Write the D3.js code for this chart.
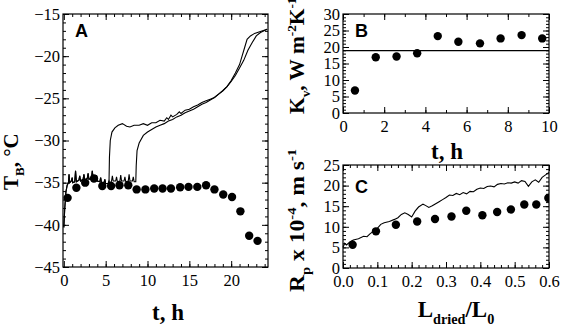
<!DOCTYPE html>
<html lang="en">
<head>
<meta charset="UTF-8">
<title>Freeze drying: T_B, K_v, R_p</title>
<script src="https://d3js.org/d3.v7.min.js"></script>
<style>
  body { margin: 0; background: #fff; }
  svg { display: block; }
  .title { font-family: "Liberation Serif", "Times New Roman", serif; font-weight: bold; fill: #000; }
  .panel { font-family: "Liberation Sans", Arial, sans-serif; font-weight: bold; font-size: 18px; }
</style>
</head>
<body>
<script>
// ---- panel A : product temperature T_B (°C) vs time (h)
const tbDotTime = [0.45, 1.5, 2.55, 3.6, 4.6, 5.65, 6.65, 7.7, 8.7, 9.75, 10.8, 11.8, 12.8, 13.9, 14.9, 15.95, 17.0, 18.0, 19.05, 20.1, 21.1, 22.15, 23.15];
const tbDotTemp = [-36.8, -35.6, -35.0, -34.5, -35.4, -35.4, -35.3, -35.3, -35.8, -35.8, -35.7, -35.7, -35.7, -35.55, -35.5, -35.5, -35.3, -35.8, -36.4, -36.7, -38.4, -41.3, -41.9];

// thermocouple traces, shared start then two runs
const tbEarly = [[0, -40.3], [0.1, -38.2], [0.25, -36.1], [0.4, -35.3], [0.55, -35.0], [0.62, -34.0], [0.7, -35.0], [0.9, -34.8], [1.0, -34.4], [1.06, -35.0], [1.3, -34.9], [1.4, -33.6], [1.5, -34.9], [1.8, -34.7], [1.9, -34.2], [2.0, -34.8], [2.3, -34.6], [2.4, -34.0], [2.5, -34.7], [2.8, -34.5], [2.9, -33.9], [3.0, -34.6], [3.3, -34.5], [3.4, -33.6], [3.5, -34.5], [3.8, -34.6], [3.9, -34.1], [4.0, -34.8], [4.3, -34.9], [4.4, -34.4], [4.5, -35.0], [4.8, -35.0], [4.9, -34.6], [5.0, -35.1], [5.3, -35.1], [5.4, -34.8]];
const tbRun1 = [[5.45, -32.0], [5.55, -30.0], [5.75, -29.0], [6.1, -28.5], [6.5, -28.2], [7.0, -28.0], [7.5, -28.3], [7.9, -28.4], [8.4, -28.2], [9.0, -28.2], [9.5, -28.0], [10.0, -28.2], [10.5, -27.9], [11.0, -27.9], [11.5, -27.6], [12.0, -27.7], [12.3, -27.3], [12.5, -27.5], [12.8, -27.0], [13.0, -27.2], [13.5, -26.9], [13.8, -26.6], [14.0, -26.8], [14.5, -26.4], [15.0, -26.3], [15.5, -26.0], [16.0, -25.8], [16.5, -25.5], [17.0, -25.3], [17.5, -25.1], [18.0, -24.9], [18.5, -24.5], [19.0, -24.1], [19.5, -23.6], [20.0, -22.9], [20.5, -22.0], [21.0, -21.0], [21.3, -20.0], [21.6, -19.0], [21.9, -18.0], [22.3, -17.6], [22.8, -17.3], [23.4, -17.1], [24.3, -16.8]];
const tbRun2 = [[5.5, -35.1], [5.7, -34.8], [5.8, -34.2], [5.9, -34.8], [6.2, -34.8], [6.3, -34.3], [6.4, -34.9], [6.7, -34.8], [6.8, -34.1], [6.9, -34.8], [7.2, -34.8], [7.3, -34.3], [7.4, -34.9], [7.7, -34.8], [7.8, -34.0], [7.9, -34.8], [8.2, -34.8], [8.3, -34.3], [8.4, -34.9], [8.6, -34.9], [8.65, -33.0], [8.75, -31.2], [9.0, -30.3], [9.5, -29.4], [10.0, -29.0], [10.5, -28.7], [11.0, -28.4], [11.5, -28.2], [12.0, -28.0], [12.5, -27.7], [13.0, -27.5], [13.5, -27.2], [14.0, -27.0], [14.5, -26.7], [15.0, -26.5], [15.5, -26.3], [16.0, -26.0], [16.5, -25.7], [17.0, -25.5], [17.5, -25.2], [18.0, -24.9], [18.5, -24.5], [19.0, -24.1], [19.5, -23.6], [20.0, -23.0], [20.5, -22.3], [21.0, -21.4], [21.5, -20.5], [22.0, -19.3], [22.5, -18.4], [23.0, -17.6], [23.5, -17.2], [24.3, -16.8]];

// ---- panel B : heat transfer coefficient K_v vs time
const kvTime = [0.58, 1.59, 2.6, 3.6, 4.6, 5.6, 6.65, 7.65, 8.67, 9.67];
const kvValue = [6.8, 16.9, 17.1, 18.1, 23.3, 21.6, 21.1, 22.6, 23.6, 22.6];
const kvMean = [18.9];

// ---- panel C : dried layer resistance R_p vs L_dried/L_0
const rpFrac = [0.028, 0.096, 0.154, 0.216, 0.268, 0.316, 0.359, 0.406, 0.449, 0.489, 0.528, 0.563, 0.598];
const rpValue = [5.65, 8.9, 10.5, 11.3, 11.9, 12.5, 13.9, 12.8, 13.6, 14.2, 15.4, 15.4, 17.0];
const rpLine = [[0.0, 5.0], [0.005, 6.0], [0.01, 5.6], [0.02, 6.3], [0.03, 6.8], [0.045, 7.1], [0.06, 7.7], [0.07, 7.6], [0.08, 8.4], [0.09, 8.9], [0.1, 9.6], [0.11, 10.6], [0.12, 11.0], [0.135, 11.3], [0.15, 11.8], [0.16, 12.2], [0.17, 13.0], [0.18, 13.4], [0.19, 13.0], [0.2, 12.4], [0.21, 13.8], [0.22, 14.8], [0.233, 15.5], [0.24, 15.2], [0.25, 14.7], [0.26, 15.1], [0.27, 15.6], [0.28, 16.1], [0.29, 16.6], [0.3, 17.1], [0.31, 17.7], [0.32, 17.6], [0.33, 18.1], [0.34, 17.8], [0.35, 18.3], [0.36, 18.0], [0.37, 18.6], [0.38, 18.5], [0.39, 19.1], [0.4, 19.4], [0.41, 19.3], [0.42, 19.8], [0.43, 19.9], [0.44, 19.7], [0.45, 20.3], [0.46, 20.5], [0.47, 20.4], [0.48, 20.7], [0.49, 20.6], [0.5, 20.9], [0.51, 20.6], [0.52, 21.2], [0.53, 21.0], [0.54, 19.8], [0.55, 20.9], [0.56, 21.4], [0.57, 20.8], [0.58, 22.0], [0.59, 22.6], [0.6, 23.2]];

// tick labels
const aTimeTicks = [0, 5, 10, 15, 20];
const aTempTicks = [-45, -40, -35, -30, -25, -20, -15];
const bTimeTicks = [0, 2, 4, 6, 8, 10];
const bKvTicks = [0, 5, 10, 15, 20, 25, 30];
const cFracTicks = [0, 0.1, 0.2, 0.3, 0.4, 0.5, 0.6];
const cRpTicks = [0, 5, 10, 15, 20, 25];

const serif = '"Liberation Serif", "Times New Roman", serif';
const svg = d3.select('body').append('svg').attr('width', 561).attr('height', 328);

function frame(x, y, o) {
  const [x0, x1] = x.range(), [y0, y1] = y.range();
  const g = svg.append('g');
  const add = (axis, tx, ty) => g.append('g')
      .attr('transform', `translate(${tx},${ty})`)
      .call(axis)
      .attr('font-family', serif)
      .attr('font-size', 16.5)
      .call(s => s.select('.domain').remove());
  add(d3.axisBottom(x).tickValues(o.xMinor).tickSize(-3).tickFormat(''), 0, y0);
  add(d3.axisTop(x).tickValues(o.xMinor).tickSize(-3).tickFormat(''), 0, y1);
  add(d3.axisLeft(y).tickValues(o.yMinor).tickSize(-3).tickFormat(''), x0, 0);
  add(d3.axisRight(y).tickValues(o.yMinor).tickSize(-3).tickFormat(''), x1, 0);
  add(d3.axisBottom(x).tickValues(o.xMajor).tickSize(-6).tickPadding(7).tickFormat(o.xFmt), 0, y0);
  add(d3.axisTop(x).tickValues(o.xMajor).tickSize(-6).tickFormat(''), 0, y1);
  add(d3.axisLeft(y).tickValues(o.yMajor).tickSize(-6).tickPadding(3).tickFormat(o.yFmt), x0, 0);
  add(d3.axisRight(y).tickValues(o.yMajor).tickSize(-6).tickFormat(''), x1, 0);
  g.selectAll('.tick line').attr('stroke', '#000');
  g.selectAll('.tick text')
    .attr('fill', '#000')
    .style('font-family', serif)
    .style('font-size', '16.5px');
  g.append('rect')
    .attr('x', x0).attr('y', y1)
    .attr('width', x1 - x0).attr('height', y0 - y1)
    .attr('fill', 'none').attr('stroke', '#000').attr('stroke-width', 1.2);
}

function dots(xs, ys, x, y, clip) {
  svg.append('g').attr('clip-path', clip || null)
    .selectAll('circle')
    .data(xs)
    .enter()
    .append('circle')
    .attr('cx', d => x(d))
    .attr('cy', (d, i) => y(ys[i]))
    .attr('r', 4.2)
    .attr('fill', '#000');
}

function trace(pts, x, y) {
  const line = d3.line().x(d => x(d[0])).y(d => y(d[1]));
  svg.append('path').attr('d', line(pts))
    .attr('fill', 'none').attr('stroke', '#000').attr('stroke-width', 1.1);
}

// panel A
const xA = d3.scaleLinear().domain([-0.1, 24.4]).range([63, 268]);
const yA = d3.scaleLinear().domain([-45, -15]).range([267, 14]);
frame(xA, yA, {
  xMajor: aTimeTicks, xMinor: d3.range(1, 25), xFmt: d3.format('d'),
  yMajor: aTempTicks, yMinor: d3.range(-44, -15), yFmt: d3.format('d')
});
trace(tbEarly.concat(tbRun1), xA, yA);
trace(tbEarly.concat(tbRun2), xA, yA);
dots(tbDotTime, tbDotTemp, xA, yA);

// panel B
const xB = d3.scaleLinear().domain([0, 10]).range([343, 549]);
const yB = d3.scaleLinear().domain([0, 30]).range([113, 14]);
frame(xB, yB, {
  xMajor: bTimeTicks, xMinor: d3.range(1, 10), xFmt: d3.format('d'),
  yMajor: bKvTicks, yMinor: d3.range(1, 30), yFmt: d3.format('d')
});
svg.append('line')
  .attr('x1', xB(0)).attr('x2', xB(10))
  .attr('y1', yB(kvMean[0])).attr('y2', yB(kvMean[0]))
  .attr('stroke', '#000').attr('stroke-width', 1.4);
dots(kvTime, kvValue, xB, yB);

// panel C
const xC = d3.scaleLinear().domain([0, 0.6]).range([343, 549]);
const yC = d3.scaleLinear().domain([0, 25]).range([268, 165]);
svg.append('clipPath').attr('id', 'clipC').append('rect')
  .attr('x', 343).attr('y', 165).attr('width', 206).attr('height', 103);
frame(xC, yC, {
  xMajor: cFracTicks, xMinor: d3.range(0.02, 0.6, 0.02), xFmt: d3.format('.1f'),
  yMajor: cRpTicks, yMinor: d3.range(1, 25), yFmt: d3.format('d')
});
trace(rpLine, xC, yC);
dots(rpFrac, rpValue, xC, yC, 'url(#clipC)');

// panel letters
svg.append('text').attr('class', 'panel').attr('x', 75).attr('y', 37).text('A');
svg.append('text').attr('class', 'panel').attr('x', 355).attr('y', 37).text('B');
svg.append('text').attr('class', 'panel').attr('x', 355).attr('y', 193).text('C');

// axis titles
function title(tx, ty, rot, size, stretch, anchor, parts) {
  const t = svg.append('text').attr('class', 'title')
    .attr('transform', `translate(${tx},${ty}) rotate(${rot}) scale(${stretch},1)`)
    .attr('text-anchor', anchor)
    .style('font-size', size + 'px');
  let shift = 0;
  parts.forEach(p => {
    const want = p[1] === 'sub' ? 0.3 * size : p[1] === 'sup' ? -0.4 * size : 0;
    t.append('tspan')
      .attr('dy', want - shift)
      .style('font-size', p[1] ? (0.62 * size) + 'px' : null)
      .text(p[0]);
    shift = want;
  });
}
title(18, 190, -90, 21, 1, 'start', [['T'], ['B', 'sub'], [', °C']]);
title(168, 320, 0, 23, 1, 'middle', [['t, h']]);
title(304, 114, -90, 20, 1.07, 'start', [['K'], ['v', 'sub'], [', W m'], ['-2', 'sup'], ['K'], ['-1', 'sup']]);
title(447, 159, 0, 23, 1, 'middle', [['t, h']]);
title(304, 292, -90, 20.5, 1.15, 'start', [['R'], ['p', 'sub'], [' x 10'], ['-4', 'sup'], [', m s'], ['-1', 'sup']]);
title(456, 317, 0, 23, 1, 'middle', [['L'], ['dried', 'sub'], ['/L'], ['0', 'sub']]);
</script>
</body>
</html>
